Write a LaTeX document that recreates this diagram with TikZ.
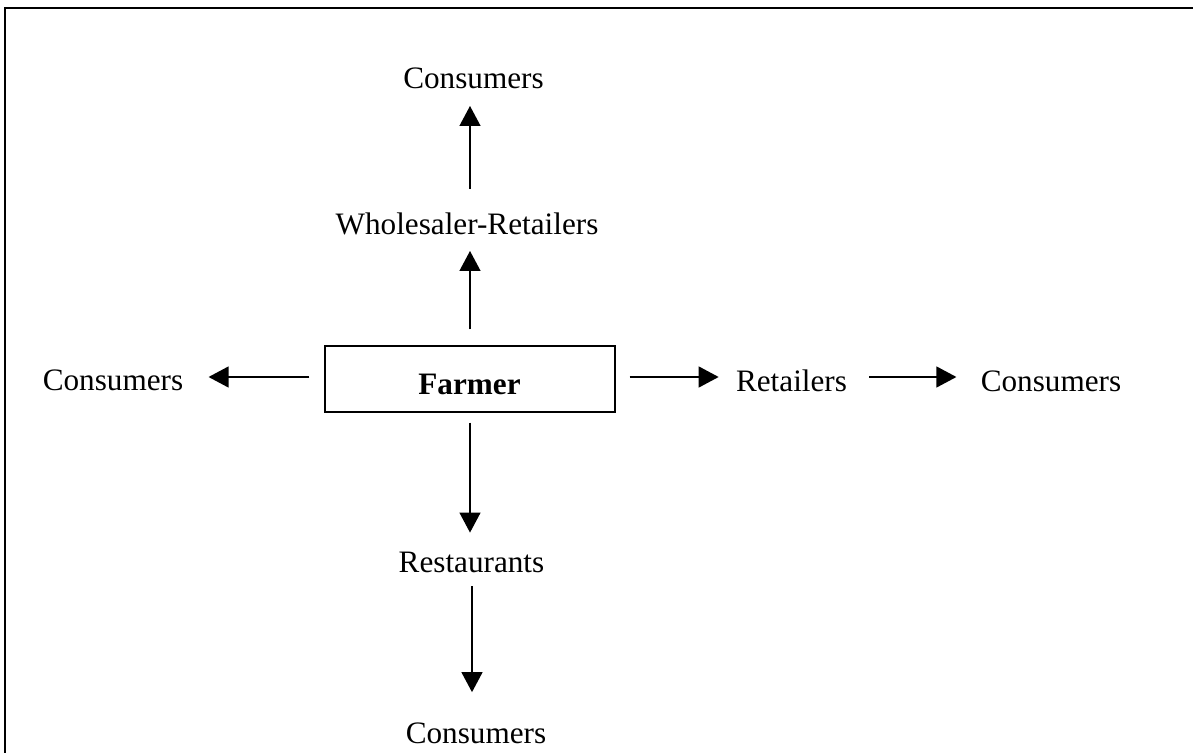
\documentclass[tikz,border=0pt]{standalone}
\usepackage{fontspec}
\setmainfont{Liberation Serif}
\usetikzlibrary{arrows.meta}
\tikzset{
  lbl/.style={inner sep=0pt, anchor=base, font=\fontsize{15.6pt}{18pt}\selectfont},
  farmerbox/.style={draw, line width=0.65pt, minimum width=145pt, minimum height=33pt, inner sep=0pt, font=\fontsize{15.6pt}{18pt}\selectfont\bfseries},
  flow/.style={line width=0.65pt, -{Triangle[length=10pt,width=10.5pt]}}
}
\begin{document}
\begin{tikzpicture}[x=0.5pt,y=-0.5pt]
\useasboundingbox (0,0) rectangle (1193,753);
% frame (only top and left edges visible)
\draw[line width=1.15pt] (5.3,760) -- (5.3,7.8) -- (1200,7.8);
% nodes
\node[farmerbox] (farmer) at (470,379) {};
\node[lbl] (farmertxt) at (469.5,394) {\bfseries Farmer};
\node[lbl] (constop) at (473.5,89) {Consumers};
\node[lbl] (whole) at (467,235) {Wholesaler-Retailers};
\node[lbl] (consl) at (113,391) {Consumers};
\node[lbl] (ret) at (791.5,392) {Retailers};
\node[lbl] (consr) at (1051,392) {Consumers};
\node[lbl] (rest) at (471.5,572) {Restaurants};
\node[lbl] (consbot) at (476,743) {Consumers};
% connectors
\draw[flow, shorten <=8pt, shorten >=8pt] (farmer.north) -- (farmer.north |- whole.base);
\draw[flow, shorten <=12pt, shorten >=8.5pt] (farmer.north |- whole.north) -- (farmer.north |- constop.base);
\draw[flow, shorten <=7.5pt, shorten >=12.5pt] ([yshift=1pt]farmer.west) -- ([yshift=1pt]farmer.west -| consl.east);
\draw[flow, shorten <=7pt, shorten >=8.5pt] ([yshift=1pt]farmer.east) -- ([yshift=1pt]farmer.east -| ret.west);
\draw[flow, shorten <=11pt, shorten >=12pt] ([yshift=1pt]farmer.east -| ret.east) -- ([yshift=1pt]farmer.east -| consr.west);
\draw[flow, shorten <=5pt, shorten >=9.3pt] (farmer.south) -- (farmer.south |- rest.north);
\draw[flow, shorten <=7pt, shorten >=14.9pt] ([xshift=1pt]farmer.south |- rest.base) -- ([xshift=1pt]farmer.south |- consbot.north);
\end{tikzpicture}
\end{document}
